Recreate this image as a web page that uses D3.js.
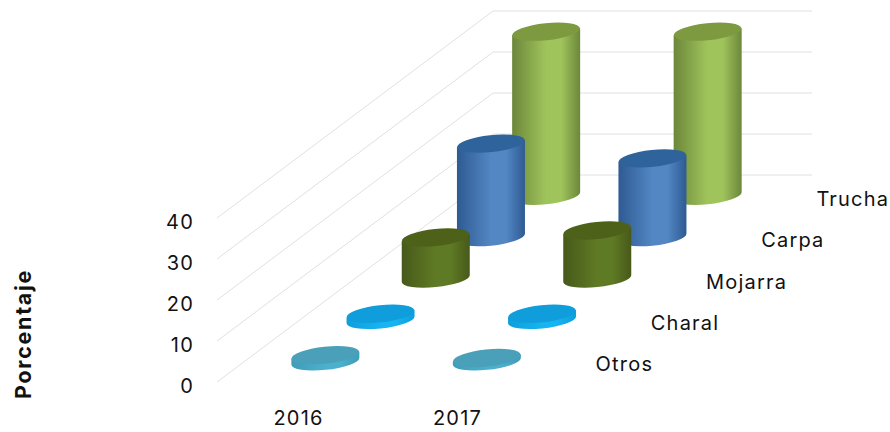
<!DOCTYPE html>
<html lang="en">
<head>
<meta charset="utf-8">
<title>Porcentaje por especie</title>
<style>
  html, body { margin: 0; background: #fff; }
  text { font-family: Inter, "Open Sans", sans-serif; fill: #111; }
  .axis text { font-size: 20px; letter-spacing: 1.2px; }
  .serie { font-size: 20px; letter-spacing: 1.2px; }
  .titulo { font-size: 21.5px; font-weight: 700; letter-spacing: 1.7px; }
</style>
</head>
<body>
<script src="https://d3js.org/d3.v7.min.js"></script>
<script>
// Data, front series first
var years = ["2016", "2017"];
var species = ["Otros", "Charal", "Mojarra", "Carpa", "Trucha"];
var yTicks = [0, 10, 20, 30, 40];
var otros = [1.5, 0.8];
var charal = [1.5, 1.5];
var mojarra = [10, 11.7];
var carpa = [22.8, 19.2];
var trucha = [40, 40];
var seriesValues = [otros, charal, mojarra, carpa, trucha];

// body, edge, top colours per series
var colors = {
  Otros:   { mid: "#4bb0cc", edge: "#3f9db8", top: "#4a9fb9" },
  Charal:  { mid: "#16b4f0", edge: "#0c9fdc", top: "#0f9ddb" },
  Mojarra: { mid: "#5f7a24", edge: "#47591a", top: "#4e6119" },
  Carpa:   { mid: "#5287c4", edge: "#2f5a92", top: "#2f639b" },
  Trucha:  { mid: "#a0c45c", edge: "#6c873a", top: "#7e9a41" }
};

var width = 890, height = 432;
var originX = 217, originY = 382;   // front left corner of the floor
var floorW = 319;                   // width along the years
var depthX = 276, depthY = 207;     // how far the floor runs back

var x = d3.scaleBand().domain(years).range([0, 323]);
var z = d3.scaleBand().domain(species).range([0, 1]);
var y = d3.scaleLinear().domain([0, 40]).range([0, 164]);

function px(year, d) { return originX + x(year) + x.bandwidth() / 2 + d * depthX; }
function py(d) { return originY - d * depthY; }

var svg = d3.select("body").append("svg")
    .attr("width", width)
    .attr("height", height);

var defs = svg.append("defs");
species.forEach(function(s) {
  var g = defs.append("linearGradient").attr("id", "grad-" + s);
  g.append("stop").attr("offset", "0%").attr("stop-color", colors[s].edge);
  g.append("stop").attr("offset", "50%").attr("stop-color", colors[s].mid);
  g.append("stop").attr("offset", "72%").attr("stop-color", colors[s].mid);
  g.append("stop").attr("offset", "100%").attr("stop-color", colors[s].edge);
});

// side wall and back wall grid
svg.append("g").selectAll("path")
    .data(yTicks)
    .enter().append("path")
    .attr("fill", "none")
    .attr("stroke", "#e0e0e4")
    .attr("stroke-width", 1)
    .attr("d", function(t) {
      var h = y(t);
      return "M" + originX + "," + (originY - h) +
             "L" + (originX + depthX) + "," + (originY - depthY - h) +
             "L" + (originX + depthX + floorW) + "," + (originY - depthY - h);
    });

// cylinders, back series first
var rx = 34, ry = 8.5, tilt = -6, off = 3.4;

function drawCylinder(s, year, value) {
  var d = z(s) + z.bandwidth() / 2;
  var h = y(value);
  var g = svg.append("g").attr("transform", "translate(" + px(year, d) + "," + py(d) + ")");
  g.append("path")
      .attr("fill", "url(#grad-" + s + ")")
      .attr("d", "M" + (-rx) + "," + (off - h) +
                 "L" + (-rx) + "," + off +
                 "A" + rx + "," + ry + " " + tilt + " 0 0 " + rx + "," + (-off) +
                 "L" + rx + "," + (-off - h) + "Z");
  g.append("ellipse")
      .attr("cx", 0).attr("cy", 0)
      .attr("rx", rx).attr("ry", ry)
      .attr("fill", colors[s].top)
      .attr("transform", "translate(0," + (-h) + ") rotate(" + tilt + ")");
}

species.slice().reverse().forEach(function(s) {
  var vals = seriesValues[species.indexOf(s)];
  years.forEach(function(year, i) { drawCylinder(s, year, vals[i]); });
});

// value axis
var yAxis = d3.axisLeft(d3.scaleLinear().domain([0, 40]).range([originY, originY - 164]))
    .tickValues(yTicks).tickSize(0).tickPadding(0);
var gy = svg.append("g").attr("class", "axis")
    .attr("transform", "translate(194,4)")
    .call(yAxis);
gy.select(".domain").remove();

// year axis, labels sit a bit tighter than the cylinders
var xLabels = d3.scaleBand().domain(years).range([0, 318]);
var xAxis = d3.axisBottom(xLabels).tickSize(0).tickPadding(0);
var gx = svg.append("g").attr("class", "axis")
    .attr("transform", "translate(" + (originX + 2) + ",411)")
    .call(xAxis);
gx.select(".domain").remove();

// series labels sit past the right edge of the floor
svg.append("g").selectAll("text")
    .data(species)
    .enter().append("text")
    .attr("class", "serie")
    .attr("x", function(s) { return originX + floorW + (z(s) + z.bandwidth() / 2) * depthX + 32; })
    .attr("y", function(s) { return py(z(s) + z.bandwidth() / 2) + 10; })
    .text(function(s) { return s; });

svg.append("text")
    .attr("class", "titulo")
    .attr("text-anchor", "middle")
    .attr("transform", "translate(31,334) rotate(-90)")
    .text("Porcentaje");
</script>
</body>
</html>
